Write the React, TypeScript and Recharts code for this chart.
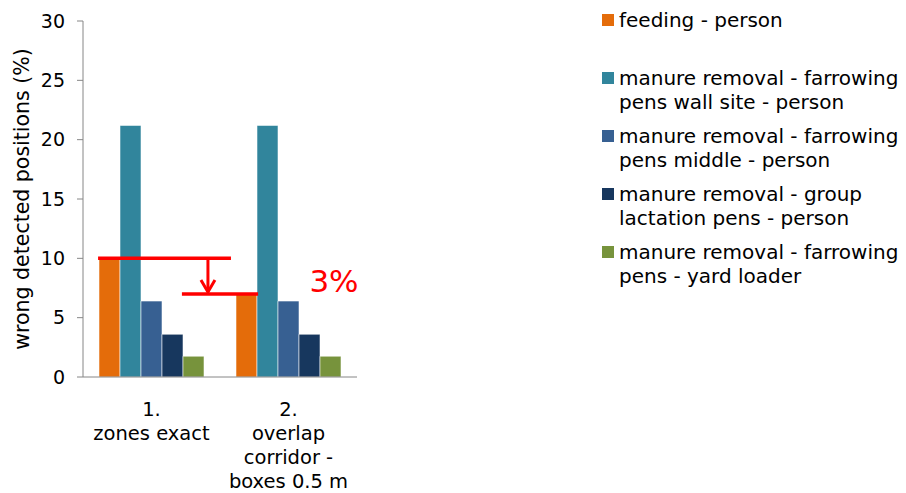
import React from 'react';
import { BarChart, Bar, XAxis, YAxis, Legend, ReferenceLine, ReferenceDot } from 'recharts';

const FONT = '"DejaVu Sans", Verdana, sans-serif';

// ---- data ----
const categories = ['1.\nzones exact', '2.\noverlap\ncorridor -\nboxes 0.5 m'];
const feedingPerson = [10.0, 7.0];
const wallSitePerson = [21.2, 21.2];
const middlePerson = [6.4, 6.4];
const groupLactationPerson = [3.6, 3.6];
const yardLoader = [1.75, 1.75];
const yTicks = [0, 5, 10, 15, 20, 25, 30];

const seriesNames = [
  'feeding - person\n',
  'manure removal - farrowing\npens wall site - person',
  'manure removal - farrowing\npens middle - person',
  'manure removal - group\nlactation pens - person',
  'manure removal - farrowing\npens - yard loader',
];
const seriesColors = ['#E46C0A', '#31859C', '#376092', '#17375E', '#77933C'];

// ---- annotation (x as a fraction of the category axis span, on a 0..1 helper axis) ----
const annotationLevels = [feedingPerson[0], feedingPerson[1]];
const line1Span = [0.055, 0.54];
const line2Span = [0.361, 0.639];
const arrowX = 0.456;
const annotationText = '3%';
const annotationTextPos = [0.916, 8.1];
const spanTicks = [0, 0.5, 1];

const data = categories.map((c, i) => ({
  cat: c,
  s0: feedingPerson[i],
  s1: wallSitePerson[i],
  s2: middlePerson[i],
  s3: groupLactationPerson[i],
  s4: yardLoader[i],
}));

const RED = '#FF0000';

const CatTick = (props: any) => {
  const { x, y, payload } = props;
  const lines = String(payload.value).split('\n');
  return (
    <text x={x} y={y + 38} textAnchor="middle" fontFamily={FONT} fontSize={19.5} fill="#000">
      {lines.map((l, i) => (
        <tspan key={i} x={x} dy={i === 0 ? 0 : 24}>
          {l}
        </tspan>
      ))}
    </text>
  );
};

const YLabel = (props: any) => {
  const vb = props.viewBox || {};
  const cx = vb.x + 22;
  const cy = vb.y + vb.height / 2;
  return (
    <text
      x={cx}
      y={cy}
      transform={`rotate(-90 ${cx} ${cy})`}
      textAnchor="middle"
      dominantBaseline="central"
      fontFamily={FONT}
      fontSize={20.5}
      fill="#000"
    >
      wrong detected positions (%)
    </text>
  );
};

const ArrowShape = (p: any) => {
  const { x1, y1, x2, y2 } = p;
  return (
    <g>
      <line x1={x1} y1={y1} x2={x2} y2={y2 - 2} stroke={RED} strokeWidth={3} />
      <polyline
        points={`${x2 - 7},${y2 - 14} ${x2},${y2 - 2} ${x2 + 7},${y2 - 14}`}
        fill="none"
        stroke={RED}
        strokeWidth={3}
      />
    </g>
  );
};

const TextShape = (p: any) => (
  <text
    x={p.cx}
    y={p.cy}
    textAnchor="middle"
    dominantBaseline="central"
    fontFamily={FONT}
    fontSize={31}
    fill={RED}
  >
    {annotationText}
  </text>
);

const renderLegend = (props: any) => {
  const raw = props.payload && props.payload.length ? props.payload : seriesNames.map((n, i) => ({ value: n, color: seriesColors[i] }));
  const payload = [...raw].sort((a: any, b: any) => seriesNames.indexOf(a.value) - seriesNames.indexOf(b.value));
  return (
    <div style={{ fontFamily: FONT, fontSize: 20, color: '#000', lineHeight: '24px' }}>
      {payload.map((p: any, i: number) => (
        <div key={i} style={{ position: 'relative', paddingLeft: 17, height: 48, marginBottom: 10 }}>
          <span style={{ position: 'absolute', left: 0, top: 6, width: 12, height: 12, background: p.color }} />
          {String(p.value)
            .split('\n')
            .map((l: string, j: number) => (
              <div key={j} style={{ whiteSpace: 'pre' }}>
                {l || '\u00a0'}
              </div>
            ))}
        </div>
      ))}
    </div>
  );
};

export default function App() {
  return (
    <div style={{ position: 'absolute', left: 0, top: 0, background: '#fff' }}>
      <BarChart
        width={906}
        height={493}
        data={data}
        margin={{ top: 21, right: 549, bottom: 0, left: 0 }}
        barCategoryGap={16}
        barGap={0}
      >
        <XAxis
          xAxisId="ann"
          type="number"
          domain={[0, 1]}
          ticks={spanTicks}
          tick={false}
          height={1}
          stroke="#868686"
          tickSize={6}
          allowDataOverflow
        />
        <XAxis
          xAxisId="cat"
          dataKey="cat"
          axisLine={false}
          tickLine={false}
          tickSize={0}
          tickMargin={0}
          height={115}
          interval={0}
          tick={<CatTick />}
        />
        <YAxis
          domain={[0, 30]}
          ticks={yTicks}
          width={83}
          stroke="#868686"
          tickSize={6}
          tickMargin={12}
          tick={{ fill: '#000', fontSize: 19, fontFamily: FONT }}
          label={{ content: <YLabel /> }}
        />
        {['s0', 's1', 's2', 's3', 's4'].map((k, i) => (
          <Bar
            key={k}
            xAxisId="cat"
            dataKey={k}
            name={seriesNames[i]}
            fill={seriesColors[i]}
            stroke="#ffffff"
            strokeOpacity={0.55}
            strokeWidth={1}
            isAnimationActive={false}
          />
        ))}
        <ReferenceLine
          xAxisId="ann"
          segment={[
            { x: line1Span[0], y: annotationLevels[0] },
            { x: line1Span[1], y: annotationLevels[0] },
          ]}
          stroke={RED}
          strokeWidth={3.5}
          ifOverflow="visible"
        />
        <ReferenceLine
          xAxisId="ann"
          segment={[
            { x: line2Span[0], y: annotationLevels[1] },
            { x: line2Span[1], y: annotationLevels[1] },
          ]}
          stroke={RED}
          strokeWidth={3.5}
          ifOverflow="visible"
        />
        <ReferenceLine
          xAxisId="ann"
          segment={[
            { x: arrowX, y: annotationLevels[0] },
            { x: arrowX, y: annotationLevels[1] },
          ]}
          stroke={RED}
          ifOverflow="visible"
          shape={<ArrowShape />}
        />
        <ReferenceDot
          xAxisId="ann"
          x={annotationTextPos[0]}
          y={annotationTextPos[1]}
          r={0}
          ifOverflow="visible"
          shape={<TextShape />}
        />
        <Legend
          layout="horizontal"
          align="center"
          verticalAlign="middle"
          wrapperStyle={{ left: 602, top: 8, width: 304 }}
          content={renderLegend}
        />
      </BarChart>
    </div>
  );
}
